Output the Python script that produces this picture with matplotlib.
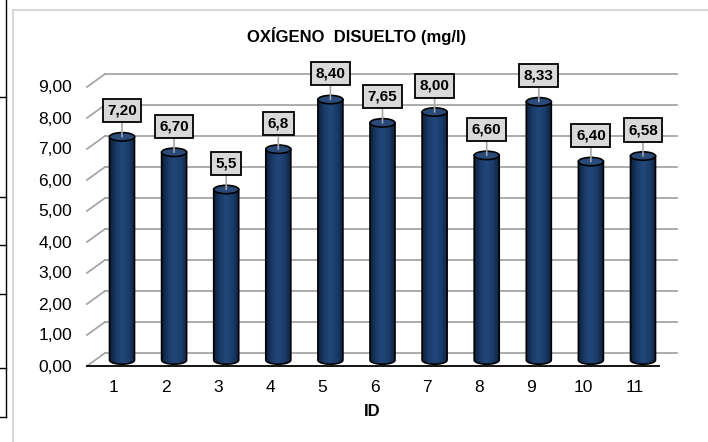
import numpy as np
import matplotlib
matplotlib.use("Agg")
import matplotlib.pyplot as plt
from matplotlib.patches import Polygon, Ellipse
from matplotlib.lines import Line2D
from matplotlib.colors import LinearSegmentedColormap
from matplotlib.transforms import offset_copy

plt.rcParams['font.family'] = ['Liberation Sans', 'DejaVu Sans']

# datos
ids = [1, 2, 3, 4, 5, 6, 7, 8, 9, 10, 11]
oxigeno = [7.20, 6.70, 5.5, 6.8, 8.40, 7.65, 8.00, 6.60, 8.33, 6.40, 6.58]
etiquetas = ["7,20", "6,70", "5,5", "6,8", "8,40", "7,65", "8,00", "6,60", "8,33", "6,40", "6,58"]
niveles = [0, 1, 2, 3, 4, 5, 6, 7, 8, 9]
niveles_txt = ["0,00", "1,00", "2,00", "3,00", "4,00", "5,00", "6,00", "7,00", "8,00", "9,00"]

W, H = 708, 442
fig = plt.figure(figsize=(W / 100, H / 100), dpi=100)
ax = fig.add_axes([0, 0, 1, 1])
ax.axis("off")

# escala: 52.1 px por categoria, 31 px por unidad
PX_X, PX_Y = 52.1, 31.0
ax.set_xlim(1 - 122 / PX_X, 1 + (W - 122) / PX_X)
ax.set_ylim(-82 / PX_Y, 360 / PX_Y)

# planos frontal y trasero (efecto 3D)
front = offset_copy(ax.transData, fig=fig, x=-9, y=-6, units="dots")
back = offset_copy(ax.transData, fig=fig, x=9, y=7, units="dots")

x0, x1 = 0.5, 11.48
gris = "#a6a6a6"
for v in niveles:
    ax.plot([x0, x1], [v, v], color=gris, lw=1.3, transform=back, zorder=1)
    # diagonal de la pared lateral
    ax.plot([x0, x0 + 18 / PX_X], [v, v + 13 / PX_Y], color=gris, lw=1.3,
            transform=front, zorder=1)
ax.plot([x0, x1], [0, 0], color="black", lw=1.3, transform=front, zorder=4)

# etiquetas del eje Y
ylab = offset_copy(ax.transData, fig=fig, x=-9 - 15, y=-7, units="dots")
for v, t in zip(niveles, niveles_txt):
    ax.text(x0, v, t, transform=ylab, ha="right", va="center", fontsize=12.5)

# etiquetas del eje X
xlab = offset_copy(ax.transData, fig=fig, x=-8, y=-6 - 22, units="dots")
for i in ids:
    ax.text(i, 0, str(i), transform=xlab, ha="center", va="center", fontsize=12.5)

# cilindros
cmap = LinearSegmentedColormap.from_list(
    "cil", ["#0c203b", "#1a3b68", "#22477a", "#1b3c69", "#0e2443"])
grad = np.linspace(0, 1, 64).reshape(1, -1)
a = 12.5 / PX_X
b = 4.2 / PX_Y
for c, v in zip(ids, oxigeno):
    t = np.linspace(np.pi, 2 * np.pi, 40)
    xs = np.concatenate([c + a * np.cos(t), [c + a, c - a]])
    ys = np.concatenate([b * np.sin(t), [v, v]])
    body = Polygon(np.column_stack([xs, ys]), closed=True, fc="none",
                   ec="black", lw=1.2, zorder=3)
    ax.add_patch(body)
    im = ax.imshow(grad, cmap=cmap, extent=(c - a, c + a, -b, v),
                   aspect="auto", zorder=2.5, interpolation="bilinear")
    im.set_clip_path(body)
    ax.add_patch(Ellipse((c, v), 2 * a, 2 * b, fc="#2a4a79", ec="black",
                         lw=1.2, zorder=3.2))

# etiquetas de datos
for c, v, t in zip(ids, oxigeno, etiquetas):
    ax.annotate(t, xy=(c, v), xytext=(0, 26), textcoords="offset pixels",
                ha="center", va="center", fontsize=11, fontweight="bold",
                bbox=dict(boxstyle="square,pad=0.3", fc="#d9d9d9", ec="black", lw=1.3),
                arrowprops=dict(arrowstyle="-", color="#a6a6a6", lw=1.2,
                                shrinkA=0, shrinkB=0),
                zorder=6)

# imshow cambia los limites; se vuelven a fijar
ax.set_xlim(1 - 122 / PX_X, 1 + (W - 122) / PX_X)
ax.set_ylim(-82 / PX_Y, 360 / PX_Y)

fig.text(357 / W, 1 - 36 / H, "OXÍGENO  DISUELTO (mg/l)", ha="center", va="center",
         fontsize=12, fontweight="bold")
fig.text(372 / W, 1 - 412 / H, "ID", ha="center", va="center",
         fontsize=12, fontweight="bold")


def px(x, y):
    return x / W, 1 - y / H


# borde del area del grafico
for (xa, ya), (xb, yb) in [((13, 10), (W, 10)), ((13, 10), (13, H))]:
    (fa, ga), (fb, gb) = px(xa, ya), px(xb, yb)
    fig.add_artist(Line2D([fa, fb], [ga, gb], color="#d9d9d9", lw=1.5,
                          transform=fig.transFigure))

# lineas de la tabla a la izquierda
(fa, ga), (fb, gb) = px(6, 0), px(6, 417)
fig.add_artist(Line2D([fa, fb], [ga, gb], color="black", lw=1.0,
                      transform=fig.transFigure))
for y in [97, 197, 245, 294, 368, 417]:
    (fa, ga), (fb, gb) = px(0, y), px(6, y)
    fig.add_artist(Line2D([fa, fb], [ga, gb], color="black", lw=1.0,
                          transform=fig.transFigure))

fig.savefig("out.png", dpi=100)
